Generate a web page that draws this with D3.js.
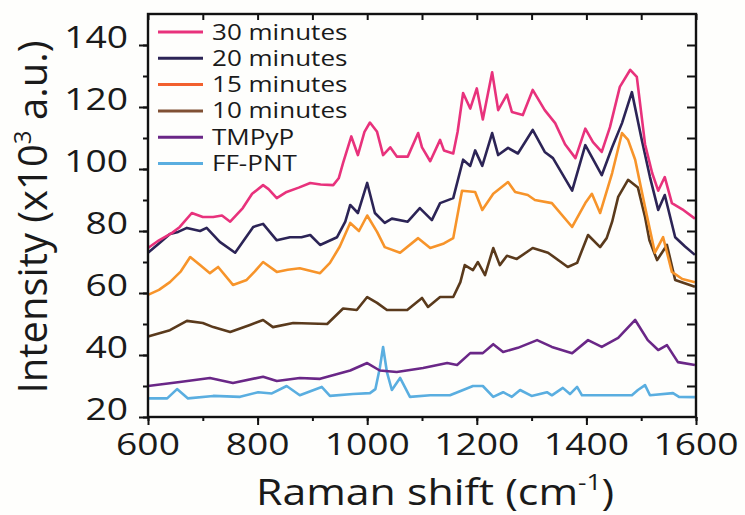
<!DOCTYPE html>
<html><head><meta charset="utf-8">
<script src="https://cdn.jsdelivr.net/npm/d3@7"></script>
<style>
html,body{margin:0;padding:0;background:#fefefc;}
svg{display:block;}
text{font-family:"Open Sans",sans-serif;fill:#1a1a1a;}
</style></head>
<body>
<svg id="chart" width="745" height="515"></svg>
<script>
// ---- data ----
const seriesNames = ["30 minutes","20 minutes","15 minutes","10 minutes","TMPyP","FF-PNT"];
const lineColors = ["#e8327c","#2c2456","#f7942a","#5a3a1c","#6a2787","#5aaee0"];
const legendColors = ["#e8327c","#2c2456","#f2602e","#805034","#6a2787","#5aaee0"];
const xTicks = [600,800,1000,1200,1400,1600];
const yTicks = [20,40,60,80,100,120,140];

const min30 = [[600,74.5],[620,77],[644,79.4],[658,81.3],[680,85.8],[700,84.5],[719,84.5],[735,85],[750,83],[773,87.4],[790,92],[810,94.8],[820,93.5],[835,90.6],[853,92.6],[875,94],[896,95.5],[915,95],[938,94.8],[948,97],[956,102],[971,110.5],[983,104.5],[995,112],[1005,115],[1018,112],[1029,104.5],[1042,107],[1054,104],[1074,104],[1093,111.6],[1100,107],[1115,102.5],[1133,109.4],[1140,106],[1157,105],[1165,112],[1175,124.5],[1188,119.5],[1200,126],[1211,116],[1228,131.2],[1239,119],[1255,124],[1264,118.4],[1284,117.4],[1302,125.5],[1324,119],[1343,114.8],[1361,108],[1380,103.5],[1398,113],[1412,108.7],[1428,105.5],[1443,113.5],[1461,126.5],[1480,132],[1492,129.7],[1507,108],[1520,98.7],[1531,93],[1543,97.4],[1556,89],[1575,87],[1598,84]];
const min20 = [[600,73],[620,76],[640,79],[655,79.7],[671,81],[695,80],[707,81],[731,76.5],[759,73],[775,77],[792,81.3],[810,82.3],[835,77],[859,78],[880,78],[896,78.7],[914,75.5],[945,78],[960,83],[969,88.4],[983,85.8],[1000,95.5],[1014,85.8],[1032,82.6],[1045,84],[1074,83],[1096,87.4],[1118,83.5],[1133,89],[1157,90.6],[1175,103],[1188,101],[1197,106],[1210,101],[1228,111.6],[1239,104.5],[1257,106.8],[1275,105],[1302,112.6],[1324,105.5],[1339,103.5],[1374,93],[1398,107.7],[1428,98],[1447,107],[1465,114.8],[1483,124.8],[1501,109.4],[1516,97.4],[1531,86.8],[1543,91.6],[1562,78],[1580,75],[1598,72.3]];
const min15 = [[600,59.4],[620,61],[640,63.5],[660,67],[677,71.6],[695,69],[713,66.4],[728,68.4],[755,62.6],[780,64.2],[795,67],[810,70],[835,66.8],[855,67.5],[877,68],[914,66.4],[932,69.7],[950,75],[969,82.6],[985,80],[1000,85],[1018,79.7],[1032,74.8],[1060,73],[1093,77.7],[1115,74.5],[1140,76],[1157,77.7],[1173,93],[1197,92.6],[1210,86.8],[1230,92],[1257,95.8],[1270,92.6],[1293,91.6],[1306,90],[1337,89],[1374,81.3],[1398,89],[1410,92],[1425,85.8],[1447,98.7],[1465,111.6],[1476,109.4],[1489,103],[1507,87.7],[1525,73],[1540,78],[1556,66.8],[1575,64.5],[1598,63.5]];
const min10 = [[600,46],[640,48],[671,51],[700,50.3],[719,49],[750,47.4],[786,49.7],[810,51.3],[828,49],[865,50.3],[927,50],[956,55],[981,54.5],[1000,58.7],[1018,56.8],[1036,54.5],[1073,54.5],[1100,58.4],[1111,55.5],[1133,58.7],[1157,58.7],[1170,63.5],[1178,69],[1193,67.4],[1202,70],[1215,65.8],[1230,74.5],[1242,69],[1255,72],[1273,71],[1302,74.5],[1330,73],[1366,68.4],[1383,69.7],[1403,78.7],[1425,74.8],[1437,77.7],[1447,83],[1458,91],[1476,96.5],[1494,94],[1507,84.5],[1515,77],[1529,70.6],[1547,75.5],[1562,64.2],[1598,62]];
const tmpyp = [[600,30],[658,31.3],[713,32.6],[755,31],[810,33],[835,31.6],[877,32.6],[914,32.3],[969,35],[1000,37.4],[1023,35],[1054,34.5],[1102,35.8],[1146,37.4],[1164,36.8],[1188,40.6],[1211,40.6],[1230,43.5],[1248,41],[1275,42.3],[1310,44.8],[1337,42.6],[1374,40.6],[1403,44.8],[1428,42.6],[1458,45.5],[1489,51.3],[1512,44.8],[1531,41.6],[1547,43.2],[1567,37.7],[1598,36.8]];
const ffpnt = [[600,26],[635,26],[653,29],[673,26],[719,26.8],[768,26.5],[801,28],[826,27.6],[853,30],[877,27],[917,29.7],[932,26.8],[974,27.4],[1005,27.7],[1015,29],[1023,35.8],[1029,42.6],[1036,34.5],[1045,28.7],[1060,32.6],[1078,26.5],[1115,27],[1151,27],[1175,28.7],[1193,30],[1211,30],[1230,26.5],[1248,28],[1264,26.5],[1279,28.7],[1300,26.8],[1328,28],[1337,27],[1357,29.4],[1370,27.4],[1383,29.7],[1392,27],[1483,27],[1494,28.7],[1507,30.3],[1516,27],[1558,27.7],[1569,26.5],[1598,26.4]];

const allSeries = [min30,min20,min15,min10,tmpyp,ffpnt];

// ---- layout ----
const L=148, R=696, T=14, B=417;
const x = d3.scaleLinear().domain([600,1600]).range([L,R]);
const y = d3.scaleLinear().domain([20,150]).range([B,T]);
const svg = d3.select("#chart");

// curves (draw back to front: bottom series first)
const line = d3.line().x(d=>x(d[0])).y(d=>y(d[1]));
const order = [5,4,3,2,1,0];
svg.append("g").selectAll("path").data(order).join("path")
  .attr("d", i=>line(allSeries[i]))
  .attr("fill","none").attr("stroke", i=>lineColors[i])
  .attr("stroke-width",2.6).attr("stroke-linejoin","round");

// axes
const minorX = d3.range(600,1601,100);
const minorY = d3.range(20,151,10);
function styleAxis(g){ g.select(".domain").remove(); g.selectAll("line").attr("stroke","#111").attr("stroke-width",2); }
svg.append("g").attr("transform",`translate(0,${B})`)
  .call(d3.axisBottom(x).tickValues(minorX).tickSize(4).tickFormat(""))
  .call(styleAxis);
svg.append("g").attr("transform",`translate(0,${B})`)
  .call(d3.axisBottom(x).tickValues(xTicks).tickSize(8).tickFormat(""))
  .call(styleAxis);
svg.append("g").attr("transform",`translate(0,${T})`)
  .call(d3.axisBottom(x).tickValues(minorX).tickSize(6).tickFormat(""))
  .call(styleAxis);
svg.append("g").attr("transform",`translate(${L},0)`)
  .call(d3.axisLeft(y).tickValues(minorY.filter(v=>v<150)).tickSize(5).tickFormat(""))
  .call(styleAxis);
svg.append("g").attr("transform",`translate(${L},0)`)
  .call(d3.axisLeft(y).tickValues(yTicks).tickSize(9).tickFormat(""))
  .call(styleAxis);
svg.append("g").attr("transform",`translate(${R},0)`)
  .call(d3.axisLeft(y).tickValues(minorY.filter(v=>v>20&&v<150)).tickSize(9).tickFormat(""))
  .call(styleAxis);
svg.append("rect").attr("x",L).attr("y",T).attr("width",R-L).attr("height",B-T)
  .attr("fill","none").attr("stroke","#111").attr("stroke-width",2.4);

// tick labels
svg.append("g").selectAll("text").data(xTicks).join("text")
  .attr("transform", d=>`translate(${x(d)},455) scale(1.2,1)`)
  .attr("text-anchor","middle").attr("font-size",31).text(d=>d);
svg.append("g").selectAll("text").data(yTicks).join("text")
  .attr("transform", d=>`translate(128,${y(d)+3}) scale(1.2,1)`)
  .attr("text-anchor","end").attr("font-size",31).text(d=>d);

// axis titles
const xt = svg.append("text").attr("transform","translate(435,505) scale(1.19,1)")
  .attr("text-anchor","middle").attr("font-size",36);
xt.append("tspan").text("Raman shift (cm");
xt.append("tspan").attr("font-size",22).attr("dy",-15).text("-1");
xt.append("tspan").attr("dy",15).text(")");

const yt = svg.append("text").attr("transform","translate(47,217) rotate(-90)")
  .attr("text-anchor","middle").attr("font-size",40);
yt.append("tspan").text("Intensity (x10");
yt.append("tspan").attr("font-size",24).attr("dy",-16).text("3");
yt.append("tspan").attr("dy",16).text(" a.u.)");

// legend
const lg = svg.append("g");
seriesNames.forEach((name,i)=>{
  const ly = 32 + i*26.3;
  lg.append("line").attr("x1",158).attr("x2",203).attr("y1",ly).attr("y2",ly)
    .attr("stroke",legendColors[i]).attr("stroke-width",3);
  lg.append("text").attr("transform",`translate(212,${ly+7.5}) scale(1.24,1)`)
    .attr("font-family","'Liberation Sans',Arial,sans-serif")
    .attr("font-size",21).text(name);
});
</script>
</body></html>
